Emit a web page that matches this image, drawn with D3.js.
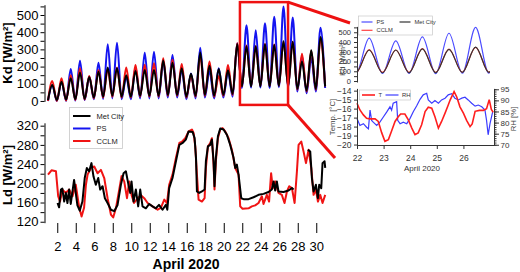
<!DOCTYPE html>
<html>
<head>
<meta charset="utf-8">
<script src="https://cdn.jsdelivr.net/npm/d3@7"></script>
<style>
body { margin: 0; background: #fff; }
svg { font-family: "Liberation Sans", Arial, sans-serif; }
</style>
</head>
<body>
<script>
// Kd daily peaks (about 11 UTC) and night lows (about 23 UTC), W/m2, April 1..30
var kdMetPeak  = [93, 112, 132, 165, 140, 170, 195, 192, 150, 175, 180, 180, 235, 222, 190, 158, 282, 205, 186, 178, 332, 318, 318, 330, 325, 348, 345, 230, 295, 372];
var kdMetLow   = [5, 5, 8, 10, 12, 20, 25, 30, 25, 25, 30, 30, 30, 35, 35, 25, 30, 35, 30, 35, 40, 85, 85, 85, 85, 88, 88, 70, 60, 70, 85];
var kdCclmPeak = [116, 132, 150, 190, 145, 180, 185, 195, 194, 209, 210, 219, 248, 240, 215, 150, 262, 229, 145, 209, 335, 322, 318, 332, 328, 345, 345, 275, 290, 358];
var kdCclmLow  = [0, 0, 2, 5, 8, 15, 20, 25, 20, 20, 25, 25, 25, 30, 30, 20, 25, 30, 25, 30, 35, 85, 88, 88, 88, 90, 90, 65, 55, 65, 85];
var kdPsPeak   = [93, 115, 186, 234, 142, 223, 330, 339, 141, 195, 281, 287, 229, 267, 182, 160, 310, 175, 190, 170, 335, 440, 412, 452, 490, 550, 485, 262, 250, 426];
var kdPsLow    = [0, 0, 0, 2, 5, 10, 12, 15, 10, 10, 15, 15, 15, 20, 20, 10, 15, 20, 15, 20, 25, 75, 78, 78, 75, 80, 80, 55, 45, 55, 75];

// Ld [day, W/m2]
var ldCclm = [[1.0,218],[1.38,227],[1.86,225],[2.1,173],[2.3,162],[2.57,187],[2.9,180],[3.3,187],[3.65,173],[4.0,197],[4.38,149],[4.63,131],[4.9,149],[5.1,197],[5.28,218],[5.64,232],[6.0,235],[6.36,221],[6.72,228],[7.08,211],[7.44,169],[7.8,135],[8.05,129],[8.35,149],[8.7,187],[8.95,215],[9.24,204],[9.54,169],[9.78,204],[10.03,176],[10.3,159],[10.7,169],[11.05,175],[11.4,169],[11.77,159],[12.3,152],[12.85,145],[13.2,149],[13.57,166],[13.86,159],[14.1,197],[14.46,218],[14.83,253],[15.2,284],[15.5,287],[15.84,294],[16.2,308],[16.56,312],[16.74,305],[16.92,277],[17.1,218],[17.28,166],[17.64,162],[17.93,169],[18.07,232],[18.29,277],[18.54,284],[18.72,294],[18.9,239],[19.0,187],[19.15,246],[19.37,294],[19.62,312],[19.87,315],[20.16,308],[20.52,294],[20.88,270],[21.24,232],[21.6,218],[21.78,152],[22.03,147],[22.68,148],[23.04,152],[23.4,154],[23.76,159],[24.12,173],[24.3,157],[24.66,176],[24.9,162],[25.12,221],[25.3,190],[25.56,204],[25.92,180],[26.28,176],[26.57,159],[26.83,183],[27.08,194],[27.37,190],[27.66,159],[27.91,225],[28.09,280],[28.38,287],[28.63,266],[28.89,242],[29.17,270],[29.46,232],[29.71,176],[29.96,187],[30.18,162],[30.43,176],[30.68,159],[30.97,176]];
var ldMet = [[2.03,159],[2.2,150],[2.4,187],[2.55,189],[2.75,162],[2.93,180],[3.1,159],[3.28,187],[3.46,157],[3.82,207],[4.0,180],[4.18,154],[4.43,143],[4.72,162],[4.97,211],[5.2,232],[5.45,225],[5.7,242],[5.92,214],[6.17,197],[6.43,211],[6.64,187],[6.9,194],[7.15,169],[7.44,159],[7.8,145],[8.16,142],[8.52,155],[8.88,197],[9.17,221],[9.42,225],[9.67,200],[9.89,180],[10.03,204],[10.25,162],[10.5,187],[10.75,152],[10.97,187],[11.22,152],[11.58,148],[11.94,157],[12.3,152],[12.66,148],[13.0,155],[13.38,145],[13.74,155],[13.9,145],[14.1,190],[14.46,211],[14.83,246],[15.2,280],[15.55,284],[15.9,291],[16.2,308],[16.63,307],[16.85,294],[17.0,253],[17.1,183],[17.35,180],[17.64,183],[17.93,187],[18.07,246],[18.29,277],[18.54,280],[18.72,291],[18.9,246],[19.0,194],[19.15,253],[19.37,298],[19.62,314],[19.98,312],[20.34,301],[20.7,280],[21.06,253],[21.24,232],[21.42,239],[21.6,218],[21.89,169],[22.14,167],[22.68,167],[23.22,171],[23.76,176],[24.3,178],[24.84,182],[25.2,187],[25.38,204],[25.56,185],[25.74,204],[25.92,183],[26.46,182],[27.0,185],[27.37,190],[27.55,187],null,[29.1,270],[29.35,266],[29.53,211],[29.71,183],[29.96,197],[30.18,169],[30.32,197],[30.54,190],[30.68,242],[30.9,246],[30.97,232]];

// inset: temperature [day, degC] and RH [day, %]
var tempT = [[22.0,-15.4],[22.11,-16.15],[22.24,-16.7],[22.36,-17.07],[22.49,-17.14],[22.68,-17.14],[22.8,-17.43],[22.93,-18.7],[23.05,-19.64],[23.18,-19.45],[23.3,-18.5],[23.43,-17.43],[23.55,-16.9],[23.64,-16.6],[23.8,-16.6],[23.93,-17.25],[24.06,-18.17],[24.18,-18.9],[24.3,-18.7],[24.43,-17.8],[24.56,-16.33],[24.68,-15.85],[24.81,-15.96],[24.93,-16.9],[25.06,-18.17],[25.18,-17.43],[25.31,-16.5],[25.43,-15.6],[25.5,-15.05],[25.65,-14.1],[25.75,-14.7],[25.87,-15.8],[26.0,-16.5],[26.12,-17.3],[26.25,-18.0],[26.33,-17.7],[26.44,-16.3],[26.6,-16.2],[26.75,-16.2],[26.87,-16.0],[26.97,-15.0],[27.05,-16.1],[27.12,-16.4]];
var rhT = [[22.0,81.8],[22.11,78.7],[22.24,79.5],[22.36,77.9],[22.43,77.2],[22.49,85.6],[22.55,81],[22.61,80.2],[22.74,78.7],[22.86,80.2],[22.99,82.5],[23.12,84.8],[23.24,87.1],[23.3,85.6],[23.36,88.7],[23.49,89.4],[23.53,81],[23.62,79.5],[23.74,80.2],[23.87,79.5],[23.99,81.8],[24.12,85],[24.24,87.5],[24.37,90.5],[24.49,92.5],[24.62,93.2],[24.68,90.2],[24.81,88.7],[24.93,89.9],[25.06,88.7],[25.18,90.2],[25.31,91],[25.43,92.5],[25.56,93],[25.68,91],[25.81,90.2],[25.94,91],[26.06,91.4],[26.18,90.2],[26.31,88.7],[26.44,87.4],[26.56,87.9],[26.69,87.1],[26.81,85.6],[26.87,81],[26.93,74.5],[27.0,79.5],[27.1,84.8]];

var dayTicks = d3.range(2, 31, 2);
var insetDays = [22, 23, 24, 25, 26];

var BLUE = "#1414f0", RED = "#f01414";

var svg = d3.select("body").append("svg")
    .attr("width", 520)
    .attr("height", 272);

// main scales
var x = d3.scaleLinear().domain([1, 31]).range([48, 325.5]);
var ky = d3.scaleLinear().domain([-2, 560]).range([101.3, 4.7]);
var ly = d3.scaleLinear().domain([118, 326]).range([222.7, 122.8]);

// daily lows and peaks -> time points
function kdPoints(peaks, lows) {
  var pts = [];
  lows.forEach(function(v, i) {
    pts.push([Math.max(1, i + 1 - 1 / 24), v]);
    if (i < peaks.length) pts.push([i + 1 + 11 / 24, peaks[i]]);
  });
  return pts;
}
var kdPs = kdPoints(kdPsPeak, kdPsLow),
    kdCclm = kdPoints(kdCclmPeak, kdCclmLow),
    kdMet = kdPoints(kdMetPeak, kdMetLow);

var kdLine = d3.line()
    .x(function(d) { return x(d[0]); })
    .y(function(d) { return ky(d[1]); })
    .curve(d3.curveMonotoneX);

var ldLine = d3.line()
    .defined(function(d) { return d !== null; })
    .x(function(d) { return x(d[0]); })
    .y(function(d) { return ly(d[1]); });

// top panel
[[kdPs, BLUE], [kdCclm, RED], [kdMet, "#000"]].forEach(function(s) {
  svg.append("path").datum(s[0])
    .attr("d", kdLine)
    .attr("fill", "none")
    .attr("stroke", s[1])
    .attr("stroke-width", 2)
    .attr("stroke-linejoin", "round");
});

// bottom panel
[[ldCclm, RED], [ldMet, "#000"]].forEach(function(s) {
  svg.append("path").datum(s[0])
    .attr("d", ldLine)
    .attr("fill", "none")
    .attr("stroke", s[1])
    .attr("stroke-width", 2)
    .attr("stroke-linejoin", "round");
});

function styleAxis(g, size, color) {
  g.selectAll("text").style("font-size", size + "px").attr("fill", color);
  g.selectAll("line").attr("stroke", color);
  g.select(".domain").attr("stroke", color);
}

var kdAxis = d3.axisLeft(ky)
    .tickValues(d3.range(0, 551, 50))
    .tickSize(4).tickSizeOuter(0).tickPadding(2)
    .tickFormat(function(d) { return d % 100 === 0 ? d : ""; });
svg.append("g").attr("transform", "translate(44.5,0)").call(kdAxis).call(styleAxis, 13, "#000");

var ldAxis = d3.axisLeft(ly)
    .tickValues(d3.range(120, 321, 20))
    .tickSize(4).tickSizeOuter(0).tickPadding(2)
    .tickFormat(function(d) { return d % 40 === 0 ? d : ""; });
svg.append("g").attr("transform", "translate(44.5,0)").call(ldAxis).call(styleAxis, 13, "#000");

var xAxis = d3.axisBottom(x)
    .tickValues(dayTicks)
    .tickSize(10).tickSizeOuter(0).tickPadding(9);
var gx = svg.append("g").attr("transform", "translate(0,223)").call(xAxis).call(styleAxis, 13, "#000");
gx.select(".domain").remove();

svg.append("text")
    .attr("x", 186).attr("y", 269)
    .attr("text-anchor", "middle")
    .style("font-size", "14px").style("font-weight", "bold")
    .text("April 2020");

svg.append("text")
    .attr("transform", "translate(11.5,53) rotate(-90)")
    .attr("text-anchor", "middle")
    .style("font-size", "13px").style("font-weight", "bold")
    .text("Kd [W/m²]");
svg.append("text")
    .attr("transform", "translate(11.5,175) rotate(-90)")
    .attr("text-anchor", "middle")
    .style("font-size", "13px").style("font-weight", "bold")
    .text("Ld [W/m²]");

// legend in the Ld panel
var leg = svg.append("g").attr("transform", "translate(69.5,107.5)");
leg.append("rect").attr("width", 53).attr("height", 41)
    .attr("fill", "#fff").attr("stroke", "#c8c8c8").attr("stroke-width", 0.8);
[["Met City", "#000"], ["PS", BLUE], ["CCLM", RED]].forEach(function(d, i) {
  var yy = 8.5 + i * 12.5;
  leg.append("line").attr("x1", 3.5).attr("x2", 21).attr("y1", yy).attr("y2", yy)
    .attr("stroke", d[1]).attr("stroke-width", 2);
  leg.append("text").attr("x", 27).attr("y", yy + 2.7)
    .style("font-size", "7.5px").attr("fill", "#222").text(d[0]);
});

// ---------- inset ----------
var ix = d3.scaleLinear().domain([22, 27.15]).range([357, 494]);
var iky = d3.scaleLinear().domain([-10, 560]).range([82, 26.4]);
var ty = d3.scaleLinear().domain([-20.05, -13.75]).range([145, 88.4]);
var ry = d3.scaleLinear().domain([69.9, 95.4]).range([145, 88.4]);

// zoom box and connectors
svg.append("rect")
    .attr("x", x(21.75)).attr("y", ky(575))
    .attr("width", x(26.95) - x(21.75)).attr("height", ky(-23) - ky(575))
    .attr("fill", "none").attr("stroke", "#ee1111").attr("stroke-width", 2.5);
svg.append("line")
    .attr("x1", x(26.95)).attr("y1", ky(575))
    .attr("x2", ix(22) - 7).attr("y2", iky(595))
    .attr("stroke", "#ee1111").attr("stroke-width", 3);
svg.append("line")
    .attr("x1", x(26.95)).attr("y1", ky(-23))
    .attr("x2", ix(22) - 22).attr("y2", ty(-21.5))
    .attr("stroke", "#ee1111").attr("stroke-width", 3);

svg.append("clipPath").attr("id", "iclip")
  .append("rect").attr("x", ix(22)).attr("y", 0)
    .attr("width", ix(27) - ix(22)).attr("height", 100);

var ikLine = d3.line()
    .x(function(d) { return ix(d[0]); })
    .y(function(d) { return iky(d[1]); })
    .curve(d3.curveMonotoneX);
function inWin(pts) { return pts.filter(function(d) { return d[0] > 20.9 && d[0] < 28.1; }); }

var ik = svg.append("g").attr("clip-path", "url(#iclip)");
[[kdPs, "#4b4bff"], [kdCclm, "#ff4040"], [kdMet, "#333"]].forEach(function(s) {
  ik.append("path").datum(inWin(s[0]))
    .attr("d", ikLine)
    .attr("fill", "none")
    .attr("stroke", s[1])
    .attr("stroke-width", 1.2);
});

var ikAxis = d3.axisLeft(iky)
    .tickValues(d3.range(0, 551, 50))
    .tickSize(3).tickSizeOuter(0).tickPadding(3)
    .tickFormat(function(d) { return d % 100 === 0 ? d : ""; });
svg.append("g").attr("transform", "translate(" + ix(22) + ",0)").call(ikAxis).call(styleAxis, 7.5, "#333");

svg.append("text")
    .attr("transform", "translate(344.5,59) rotate(-90)")
    .attr("text-anchor", "middle")
    .style("font-size", "7.5px").attr("fill", "#444")
    .text("Kd [W/m²]");

var leg2 = svg.append("g").attr("transform", "translate(358.5,16)");
leg2.append("rect").attr("width", 74).attr("height", 19)
    .attr("fill", "#fff").attr("stroke", "#c8c8c8").attr("stroke-width", 0.7);
[["PS", "#4b4bff", 3, 6], ["CCLM", "#ff4040", 3, 14.3], ["Met City", "#333", 41, 6]].forEach(function(d) {
  leg2.append("line").attr("x1", d[2]).attr("x2", d[2] + 11).attr("y1", d[3]).attr("y2", d[3])
    .attr("stroke", d[1]).attr("stroke-width", 1.2);
  leg2.append("text").attr("x", d[2] + 15).attr("y", d[3] + 2)
    .style("font-size", "5.8px").attr("fill", "#333").text(d[0]);
});

// temperature / RH
var tLine = d3.line()
    .x(function(d) { return ix(d[0]); })
    .y(function(d) { return ty(d[1]); });
var rLine = d3.line()
    .x(function(d) { return ix(d[0]); })
    .y(function(d) { return ry(d[1]); });
svg.append("path").datum(rhT).attr("d", rLine)
    .attr("fill", "none").attr("stroke", "#3c3cff").attr("stroke-width", 1.2);
svg.append("path").datum(tempT).attr("d", tLine)
    .attr("fill", "none").attr("stroke", "#ff1e1e").attr("stroke-width", 1.6);

var tAxis = d3.axisLeft(ty)
    .tickValues(d3.range(-20, -13.9, 1))
    .tickSize(3).tickSizeOuter(0).tickPadding(2.5)
    .tickFormat(d3.format("d"));
svg.append("g").attr("transform", "translate(" + ix(22) + ",0)").call(tAxis).call(styleAxis, 8.5, "#333");

var rAxis = d3.axisRight(ry)
    .tickValues(d3.range(70, 96, 5))
    .tickSize(5).tickSizeOuter(0).tickPadding(1.5);
svg.append("g").attr("transform", "translate(" + ix(27.15) + ",0)").call(rAxis).call(styleAxis, 8, "#333");
var rMinor = d3.axisRight(ry)
    .tickValues(d3.range(70, 96, 1))
    .tickSize(2.5).tickSizeOuter(0).tickFormat("");
var gm = svg.append("g").attr("transform", "translate(" + ix(27.15) + ",0)").call(rMinor).call(styleAxis, 8, "#333");
gm.select(".domain").remove();

var ixAxis = d3.axisBottom(ix)
    .tickValues(insetDays)
    .tickSize(4).tickSizeOuter(0).tickPadding(6)
    .tickFormat(d3.format("d"));
svg.append("g").attr("transform", "translate(0,145)").call(ixAxis).call(styleAxis, 8.5, "#333");

svg.append("text")
    .attr("x", 422).attr("y", 171)
    .attr("text-anchor", "middle")
    .style("font-size", "8px").attr("fill", "#333")
    .text("April 2020");
svg.append("text")
    .attr("transform", "translate(335,117) rotate(-90)")
    .attr("text-anchor", "middle")
    .style("font-size", "7.8px").attr("fill", "#444")
    .text("Temp. [°C]");
svg.append("text")
    .attr("transform", "translate(516,119) rotate(-90)")
    .attr("text-anchor", "middle")
    .style("font-size", "7.8px").attr("fill", "#444")
    .text("RH [%]");

var leg3 = svg.append("g").attr("transform", "translate(359.5,90)");
leg3.append("rect").attr("width", 51).attr("height", 10)
    .attr("fill", "#fff").attr("stroke", "#c8c8c8").attr("stroke-width", 0.7);
[["T", "#ff1e1e", 2.5, 1.6], ["RH", "#3c3cff", 26, 1.2]].forEach(function(d) {
  leg3.append("line").attr("x1", d[2]).attr("x2", d[2] + 13).attr("y1", 5).attr("y2", 5)
    .attr("stroke", d[1]).attr("stroke-width", d[3]);
  leg3.append("text").attr("x", d[2] + 16.5).attr("y", 7)
    .style("font-size", "5.8px").attr("fill", "#333").text(d[0]);
});
</script>
</body>
</html>
